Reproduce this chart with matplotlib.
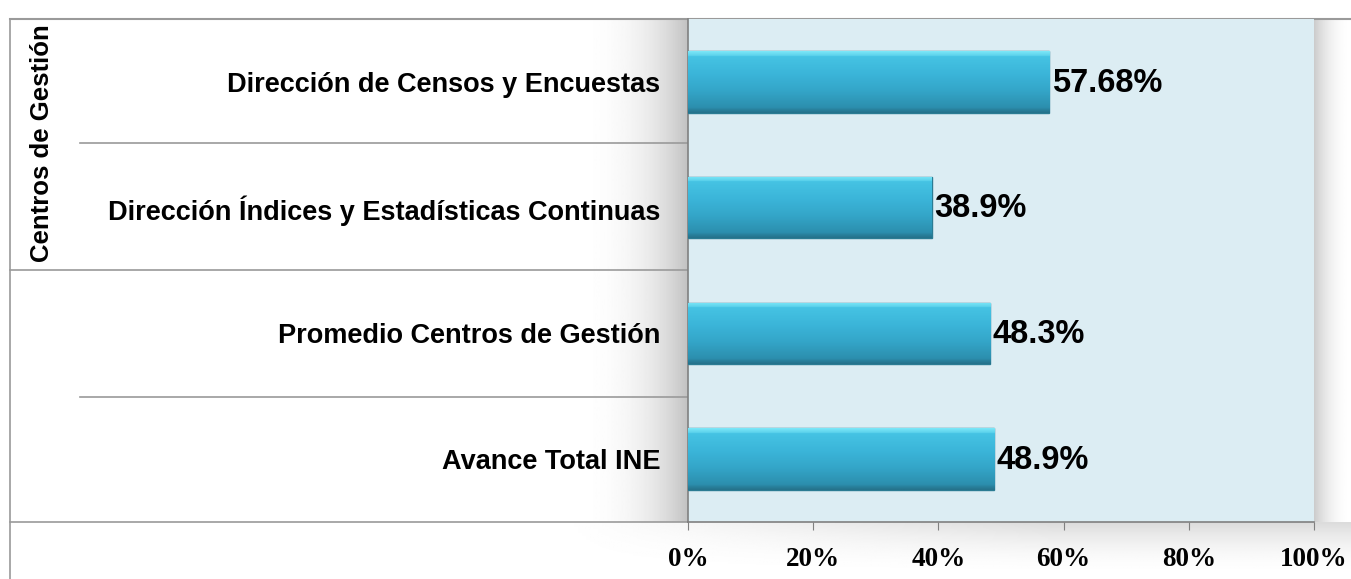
import numpy as np
import matplotlib.pyplot as plt
from matplotlib.lines import Line2D
from matplotlib.colors import LinearSegmentedColormap

# data
categorias = ["Dirección de Censos y Encuestas",
              "Dirección Índices y Estadísticas Continuas",
              "Promedio Centros de Gestión",
              "Avance Total INE"]
avance = [0.5768, 0.389, 0.483, 0.489]
etiquetas = ["57.68%", "38.9%", "48.3%", "48.9%"]
ticks_x = [0, 0.2, 0.4, 0.6, 0.8, 1.0]
ticks_x_lbl = ["0%", "20%", "40%", "60%", "80%", "100%"]

W, H = 1351, 579
fig = plt.figure(figsize=(W / 100, H / 100), dpi=100)
fig.patch.set_facecolor("white")

# background layer in pixel coordinates (table lines + shadows)
bg = fig.add_axes([0, 0, 1, 1], zorder=0)
bg.set_xlim(0, W)
bg.set_ylim(H, 0)
bg.axis("off")

grad = np.linspace(0, 1, 100).reshape(1, -1)
# shadow left of plot area
bg.imshow(1 - 0.24 * grad ** 3, cmap="gray", vmin=0, vmax=1, aspect="auto",
          extent=[560, 688, 522, 19], zorder=1)
# shadow right of plot area
bg.imshow(1 - 0.2 * grad[:, ::-1] ** 2, cmap="gray", vmin=0, vmax=1, aspect="auto",
          extent=[1314, 1351, 522, 19], zorder=1)
# shadow below plot area (fades down and to the left)
vert = np.linspace(1, 0, 50).reshape(-1, 1) ** 2
horiz = np.clip(np.linspace(0, 1, 200) * 1.6, 0, 1).reshape(1, -1)
bg.imshow(1 - 0.14 * vert * horiz, cmap="gray", vmin=0, vmax=1, aspect="auto",
          extent=[560, 1351, 579, 522], zorder=1)

lc = "#9a9a9a"
bg.add_line(Line2D([10, W], [19, 19], color=lc, lw=1.5, zorder=2))
bg.add_line(Line2D([10, 10], [19, H], color=lc, lw=1.2, zorder=2))
bg.add_line(Line2D([80, 688], [143, 143], color=lc, lw=1.2, zorder=2))
bg.add_line(Line2D([10, 688], [270, 270], color=lc, lw=1.2, zorder=2))
bg.add_line(Line2D([80, 688], [397, 397], color=lc, lw=1.2, zorder=2))
bg.add_line(Line2D([10, 688], [522, 522], color=lc, lw=1.2, zorder=2))

bg.text(42, 143, "Centros de Gestión", rotation=90, ha="center", va="center",
        fontsize=18.5, fontweight="bold", family="Liberation Sans", zorder=3)

# plot area
ax = fig.add_axes([688 / W, 57 / H, (1314 - 688) / W, (522 - 19) / H], zorder=2)
ax.set_facecolor("#dcedf3")

y = np.arange(len(categorias))
h = 0.49
bars = ax.barh(y, avance, height=h, color="#38b0d4", edgecolor="#2b7c93",
               linewidth=1, zorder=3)

# vertical gradient on each bar (bevel look)
cmap_bar = LinearSegmentedColormap.from_list(
    "bar", ["#7ae6f7", "#45c3e3", "#3bb5d9", "#34a6c9", "#2c8fae", "#25738c"])
gv = np.concatenate([np.linspace(0, 0.12, 4), np.linspace(0.2, 0.8, 40),
                     np.linspace(0.85, 1, 4)]).reshape(-1, 1)
for b, yi, v in zip(bars, y, avance):
    im = ax.imshow(gv, cmap=cmap_bar, vmin=0, vmax=1, aspect="auto",
                   extent=[0, v, yi + h / 2, yi - h / 2], zorder=3.5)
    im.set_clip_path(b)

ax.set_aspect("auto")

for yi, v, t in zip(y, avance, etiquetas):
    ax.text(v + 0.004, yi + 0.01, t, ha="left", va="center", fontsize=23.5,
            fontweight="bold", family="Liberation Sans", zorder=5)

ax.set_xlim(0, 1)
ax.set_ylim(3.5, -0.5)
ax.set_yticks(y)
ax.set_yticklabels(categorias, fontsize=19.5, fontweight="bold", family="Liberation Sans")
ax.tick_params(axis="y", length=0, pad=20)
ax.set_xticks(ticks_x)
ax.set_xticklabels(ticks_x_lbl, fontsize=19.5, fontweight="bold", family="Liberation Serif")
ax.tick_params(axis="x", length=6, color="#808080", pad=12)

for s in ["top", "right"]:
    ax.spines[s].set_visible(False)
for s in ["left", "bottom"]:
    ax.spines[s].set_color("#808080")
    ax.spines[s].set_linewidth(1.2)

fig.savefig("out.png", dpi=100)
